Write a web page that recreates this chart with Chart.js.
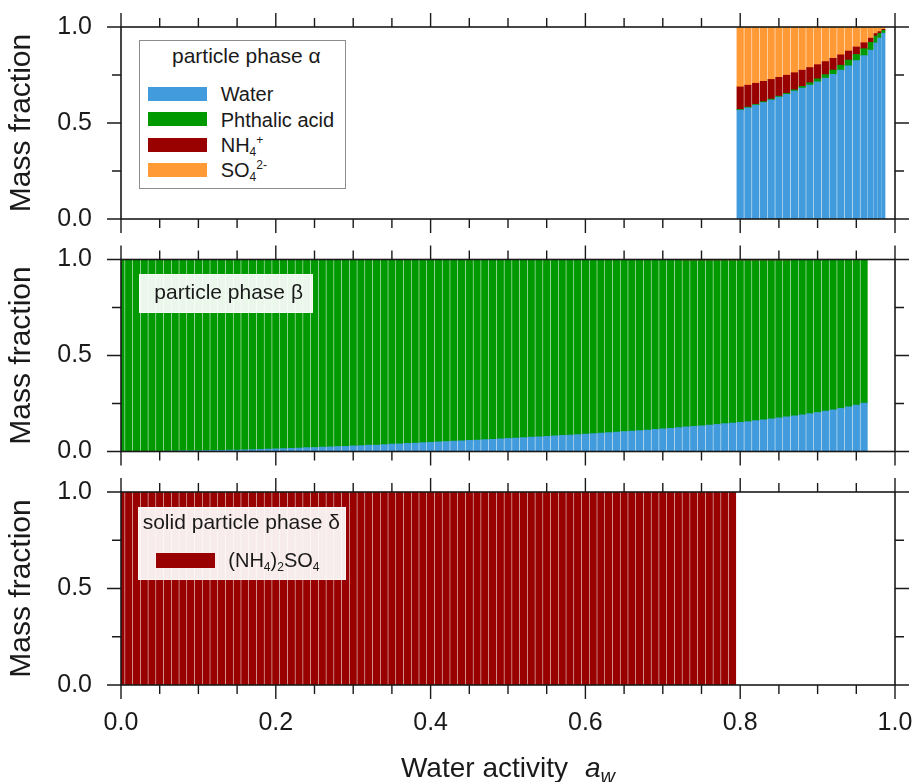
<!DOCTYPE html>
<html>
<head>
<meta charset="utf-8">
<script src="https://cdn.jsdelivr.net/npm/chart.js@4.4.0/dist/chart.umd.min.js"></script>
<style>
  body { margin: 0; background: #fff; width: 915px; height: 782px; position: relative; overflow: hidden;
         font-family: "Liberation Sans", Arial, Helvetica, sans-serif; color: #1a1a1a; }
  canvas { position: absolute; left: 0; }
  .box { position: absolute; box-sizing: border-box; }
  .txt { position: absolute; white-space: nowrap; line-height: 24px; }
  .sw { position: absolute; }
  sub, sup { font-size: 12px; line-height: 0; }
  sub { vertical-align: -4px; }
  sup { vertical-align: 8px; }
  #xTitle { position: absolute; left: 121px; width: 774px; top: 752.6px; text-align: center;
            font-size: 28px; line-height: 30px; white-space: nowrap; }
  #xTitle sub { font-size: 20px; vertical-align: -6px; }
</style>
</head>
<body>
<canvas id="pAlpha" width="915" height="236" style="top:0px"></canvas>
<canvas id="pBeta" width="915" height="236" style="top:232px"></canvas>
<canvas id="pDelta" width="915" height="317" style="top:465px"></canvas>
<div id="overlay"></div>
<div id="xTitle">Water activity<i style="margin-left:17px">a</i><sub><i>w</i></sub></div>
<script>
// particle phase alpha (liquid, aw >= 0.8)
const awAlpha = [0.80, 0.81, 0.82, 0.83, 0.84, 0.85, 0.86, 0.87, 0.88, 0.89,
                 0.90, 0.91, 0.92, 0.93, 0.94, 0.95, 0.96, 0.97, 0.975, 0.98, 0.985];
const waterAlpha = [0.567, 0.579, 0.593, 0.607, 0.620, 0.635, 0.649, 0.666, 0.682, 0.698,
                    0.715, 0.734, 0.754, 0.775, 0.798, 0.825, 0.851, 0.880, 0.918, 0.942, 0.968];
const phthAlpha = [0.004, 0.004, 0.004, 0.004, 0.005, 0.005, 0.006, 0.007, 0.009, 0.012,
                   0.015, 0.018, 0.022, 0.026, 0.030, 0.032, 0.036, 0.040, 0.035, 0.025, 0.015];
const nh4Alpha = [0.117, 0.114, 0.110, 0.106, 0.102, 0.098, 0.094, 0.089, 0.084, 0.079,
                  0.074, 0.068, 0.061, 0.054, 0.047, 0.039, 0.031, 0.022, 0.013, 0.009, 0.005];
const so4Alpha = [0.312, 0.303, 0.293, 0.283, 0.273, 0.262, 0.251, 0.238, 0.225, 0.211,
                  0.196, 0.180, 0.163, 0.145, 0.125, 0.104, 0.082, 0.058, 0.034, 0.024, 0.012];

// particle phase beta (organic rich)
const awBeta = [0.00, 0.01, 0.02, 0.03, 0.04, 0.05, 0.06, 0.07, 0.08, 0.09,
                0.10, 0.11, 0.12, 0.13, 0.14, 0.15, 0.16, 0.17, 0.18, 0.19,
                0.20, 0.21, 0.22, 0.23, 0.24, 0.25, 0.26, 0.27, 0.28, 0.29,
                0.30, 0.31, 0.32, 0.33, 0.34, 0.35, 0.36, 0.37, 0.38, 0.39,
                0.40, 0.41, 0.42, 0.43, 0.44, 0.45, 0.46, 0.47, 0.48, 0.49,
                0.50, 0.51, 0.52, 0.53, 0.54, 0.55, 0.56, 0.57, 0.58, 0.59,
                0.60, 0.61, 0.62, 0.63, 0.64, 0.65, 0.66, 0.67, 0.68, 0.69,
                0.70, 0.71, 0.72, 0.73, 0.74, 0.75, 0.76, 0.77, 0.78, 0.79,
                0.80, 0.81, 0.82, 0.83, 0.84, 0.85, 0.86, 0.87, 0.88, 0.89,
                0.90, 0.91, 0.92, 0.93, 0.94, 0.95, 0.96];
const waterBeta = [0.000, 0.000, 0.000, 0.001, 0.001, 0.001, 0.002, 0.002, 0.003, 0.003,
                   0.004, 0.005, 0.006, 0.006, 0.007, 0.008, 0.009, 0.010, 0.011, 0.013,
                   0.014, 0.015, 0.017, 0.018, 0.020, 0.021, 0.023, 0.024, 0.026, 0.027,
                   0.029, 0.031, 0.033, 0.034, 0.036, 0.038, 0.040, 0.042, 0.044, 0.046,
                   0.048, 0.050, 0.052, 0.054, 0.056, 0.058, 0.060, 0.062, 0.064, 0.066,
                   0.068, 0.070, 0.072, 0.075, 0.077, 0.079, 0.081, 0.084, 0.086, 0.088,
                   0.091, 0.093, 0.096, 0.098, 0.101, 0.104, 0.107, 0.109, 0.112, 0.115,
                   0.118, 0.121, 0.124, 0.128, 0.131, 0.134, 0.138, 0.141, 0.145, 0.148,
                   0.152, 0.156, 0.161, 0.165, 0.170, 0.175, 0.180, 0.186, 0.191, 0.197,
                   0.203, 0.210, 0.217, 0.225, 0.233, 0.242, 0.252];
const phthBeta = [1.000, 1.000, 1.000, 0.999, 0.999, 0.999, 0.998, 0.998, 0.997, 0.997,
                  0.996, 0.995, 0.994, 0.994, 0.993, 0.992, 0.991, 0.990, 0.989, 0.987,
                  0.986, 0.985, 0.983, 0.982, 0.980, 0.979, 0.977, 0.976, 0.974, 0.973,
                  0.971, 0.969, 0.967, 0.966, 0.964, 0.962, 0.960, 0.958, 0.956, 0.954,
                  0.952, 0.950, 0.948, 0.946, 0.944, 0.942, 0.940, 0.938, 0.936, 0.934,
                  0.932, 0.930, 0.928, 0.925, 0.923, 0.921, 0.919, 0.916, 0.914, 0.912,
                  0.909, 0.907, 0.901, 0.899, 0.896, 0.893, 0.890, 0.888, 0.885, 0.882,
                  0.879, 0.876, 0.873, 0.867, 0.864, 0.861, 0.857, 0.854, 0.850, 0.847,
                  0.843, 0.839, 0.834, 0.830, 0.825, 0.820, 0.815, 0.811, 0.806, 0.800,
                  0.794, 0.787, 0.780, 0.775, 0.767, 0.758, 0.748];
const nh4Beta = [0, 0, 0, 0, 0, 0, 0, 0, 0, 0,
                 0, 0, 0, 0, 0, 0, 0, 0, 0, 0,
                 0, 0, 0, 0, 0, 0, 0, 0, 0, 0,
                 0, 0, 0, 0, 0, 0, 0, 0, 0, 0,
                 0, 0, 0, 0, 0, 0, 0, 0, 0, 0,
                 0, 0, 0, 0, 0, 0, 0, 0, 0, 0,
                 0, 0, 0.003, 0.003, 0.003, 0.003, 0.003, 0.003, 0.003, 0.003,
                 0.003, 0.003, 0.003, 0.003, 0.003, 0.003, 0.003, 0.003, 0.003, 0.003,
                 0.003, 0.003, 0.003, 0.003, 0.003, 0.003, 0.003, 0.003, 0.003, 0.003,
                 0.003, 0.003, 0.003, 0, 0, 0, 0];
const so4Beta = [0, 0, 0, 0, 0, 0, 0, 0, 0, 0,
                 0, 0, 0, 0, 0, 0, 0, 0, 0, 0,
                 0, 0, 0, 0, 0, 0, 0, 0, 0, 0,
                 0, 0, 0, 0, 0, 0, 0, 0, 0, 0,
                 0, 0, 0, 0, 0, 0, 0, 0, 0, 0,
                 0, 0, 0, 0, 0, 0, 0, 0, 0, 0,
                 0, 0, 0, 0, 0, 0, 0, 0, 0, 0,
                 0, 0, 0, 0.002, 0.002, 0.002, 0.002, 0.002, 0.002, 0.002,
                 0.002, 0.002, 0.002, 0.002, 0.002, 0.002, 0.002, 0, 0, 0,
                 0, 0, 0, 0, 0, 0, 0];

// solid phase delta, (NH4)2SO4 present up to aw = 0.79
const awDelta = awBeta.slice(0, 80);
const asDelta = [1, 1, 1, 1, 1, 1, 1, 1, 1, 1,
                 1, 1, 1, 1, 1, 1, 1, 1, 1, 1,
                 1, 1, 1, 1, 1, 1, 1, 1, 1, 1,
                 1, 1, 1, 1, 1, 1, 1, 1, 1, 1,
                 1, 1, 1, 1, 1, 1, 1, 1, 1, 1,
                 1, 1, 1, 1, 1, 1, 1, 1, 1, 1,
                 1, 1, 1, 1, 1, 1, 1, 1, 1, 1,
                 1, 1, 1, 1, 1, 1, 1, 1, 1, 1];

const labelsAlpha = ['Water', 'Phthalic acid', 'NH<sub>4</sub><sup>+</sup>', 'SO<sub>4</sub><sup>2-</sup>'];
const labelDelta = '(NH<sub>4</sub>)<sub>2</sub>SO<sub>4</sub>';

const COL = { water: '#419bdc', phth: '#009a00', nh4: '#990000', so4: '#ff9a36' };
const INK = '#1a1a1a';

Chart.defaults.font.family = '"Liberation Sans", Arial, Helvetica, sans-serif';
Chart.defaults.color = INK;

// box frame with outward major/minor ticks on all four sides
const frameTicks = {
  id: 'frameTicks',
  afterDraw(chart) {
    const { ctx, chartArea: a } = chart;
    const xs = chart.scales.x, ys = chart.scales.y;
    ctx.save();
    ctx.strokeStyle = INK;
    ctx.lineWidth = 1.4;
    ctx.beginPath();
    for (let i = 0; i <= 20; i++) {
      const px = xs.getPixelForValue(i * 0.05);
      const len = i % 4 === 0 ? 14 : 9;
      ctx.moveTo(px, a.top); ctx.lineTo(px, a.top - len);
      ctx.moveTo(px, a.bottom); ctx.lineTo(px, a.bottom + len);
    }
    for (let i = 0; i <= 4; i++) {
      const py = ys.getPixelForValue(i * 0.25);
      const len = i % 2 === 0 ? 14 : 9;
      ctx.moveTo(a.left, py); ctx.lineTo(a.left - len, py);
      ctx.moveTo(a.right, py); ctx.lineTo(a.right + len, py);
    }
    ctx.stroke();
    ctx.lineWidth = 1.6;
    ctx.strokeRect(a.left, a.top, a.right - a.left, a.bottom - a.top);
    ctx.restore();
  }
};

// xSpace: room kept below the plot for the x axis (labels only on the last panel)
function panel(id, aw, series, withLabels, padTop, xSpace) {
  return new Chart(document.getElementById(id), {
    type: 'bar',
    data: {
      labels: aw,
      datasets: series.map(s => ({
        label: s.label.replace(/<[^>]+>/g, ''),
        data: s.data,
        backgroundColor: s.color,
        borderWidth: 0,
        barThickness: 'flex',
        barPercentage: 0.85,
        categoryPercentage: 1,
        clip: 0
      }))
    },
    options: {
      responsive: false,
      animation: false,
      events: [],
      layout: { padding: { top: padTop, bottom: 0, left: 0, right: 20 } },
      plugins: { legend: { display: false }, tooltip: { enabled: false } },
      scales: {
        x: {
          type: 'linear', min: 0, max: 1, stacked: true, offset: false,
          grid: { display: false, tickLength: 23, offset: false },
          border: { display: false },
          ticks: { display: withLabels, stepSize: 0.2, autoSkip: false, maxRotation: 0, padding: 0,
                   font: { size: 25 }, color: INK, callback: v => v.toFixed(1) },
          afterFit: s => { s.height = xSpace; }
        },
        y: {
          min: 0, max: 1, stacked: true,
          grid: { display: false, tickLength: 29 },
          border: { display: false },
          ticks: { stepSize: 0.5, padding: 0, font: { size: 25 }, color: INK,
                   callback: v => v.toFixed(1) },
          title: { display: true, text: 'Mass fraction', font: { size: 30 }, color: INK,
                   padding: { top: 3.6, bottom: 0 } },
          afterFit: s => { s.width = 121; }
        }
      }
    },
    plugins: [frameTicks]
  });
}

const alpha = panel('pAlpha', awAlpha, [
  { label: labelsAlpha[0], data: waterAlpha, color: COL.water },
  { label: labelsAlpha[1], data: phthAlpha, color: COL.phth },
  { label: labelsAlpha[2], data: nh4Alpha, color: COL.nh4 },
  { label: labelsAlpha[3], data: so4Alpha, color: COL.so4 }
], false, 27, 17);

panel('pBeta', awBeta, [
  { label: labelsAlpha[0], data: waterBeta, color: COL.water },
  { label: labelsAlpha[1], data: phthBeta, color: COL.phth },
  { label: labelsAlpha[2], data: nh4Beta, color: COL.nh4 },
  { label: labelsAlpha[3], data: so4Beta, color: COL.so4 }
], false, 27.5, 16.5);

const delta = panel('pDelta', awDelta, [
  { label: labelDelta, data: asDelta, color: COL.nh4 }
], true, 27, 97);

// legends as html overlays (for sub/superscripts)
const overlay = document.getElementById('overlay');
function add(cls, css, html) {
  const d = document.createElement('div');
  d.className = cls;
  d.style.cssText = css;
  if (html) d.innerHTML = html;
  overlay.appendChild(d);
}

add('box', 'left:139px;top:40px;width:207px;height:149px;background:#fff;border:1.5px solid #8c8c8c');
add('txt', 'left:172px;top:44px;font-size:21px', 'particle phase \u03b1');
alpha.data.datasets.forEach((ds, i) => {
  add('sw', `left:147.7px;top:${86.7 + 25.4 * i}px;width:59px;height:14px;background:${ds.backgroundColor}`);
  add('txt', `left:220.7px;top:${82.1 + 25.4 * i}px;font-size:20px`, labelsAlpha[i]);
});

add('box', 'left:139px;top:274px;width:174px;height:38.5px;background:rgba(255,255,255,0.92);border:1px solid rgba(255,255,255,0.6)');
add('txt', 'left:154.3px;top:280px;font-size:21px', 'particle phase \u03b2');

add('box', 'left:138.3px;top:506.7px;width:207.7px;height:73.3px;background:rgba(255,255,255,0.92);border:1px solid rgba(255,255,255,0.6)');
add('txt', 'left:142.7px;top:510px;font-size:21px', 'solid particle phase \u03b4');
add('sw', `left:156px;top:553.3px;width:59px;height:15px;background:${delta.data.datasets[0].backgroundColor}`);
add('txt', 'left:228.3px;top:548.4px;font-size:20px', labelDelta);
</script>
</body>
</html>
